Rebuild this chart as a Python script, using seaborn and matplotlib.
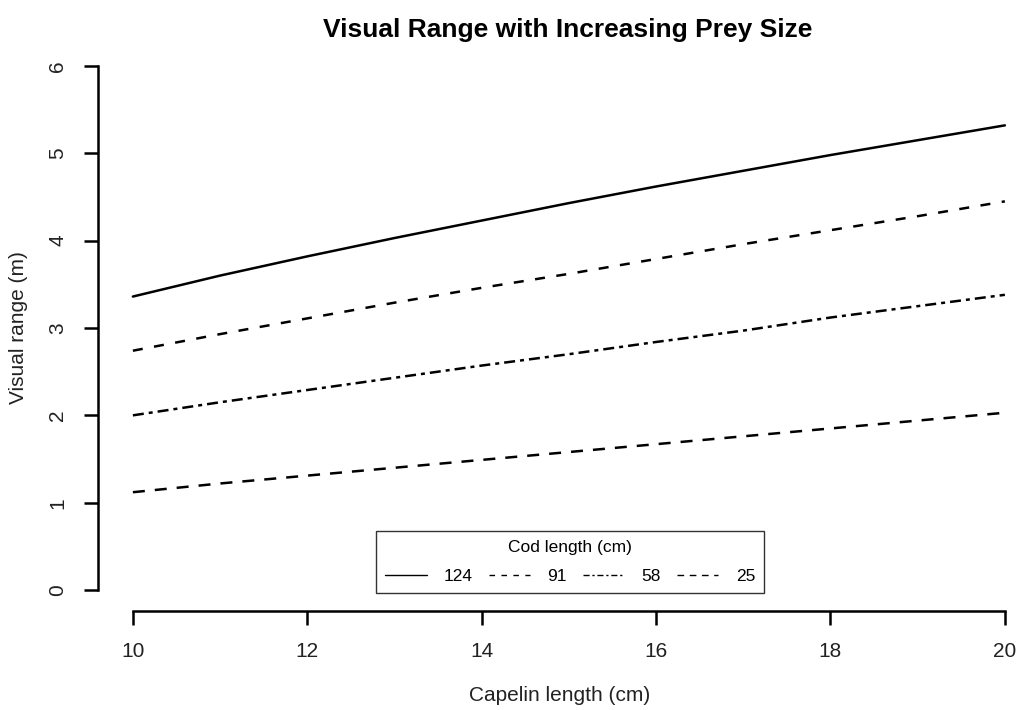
import numpy as np
import pandas as pd
import matplotlib
matplotlib.use("Agg")
import matplotlib.pyplot as plt
import seaborn as sns

# Capelin (prey) length, cm
capelin_length = [10, 11, 12, 13, 14, 15, 16, 17, 18, 19, 20]

# Visual range (m) for each cod length
range_cod_124 = [3.36, 3.60, 3.82, 4.03, 4.23, 4.43, 4.62, 4.80, 4.98, 5.15, 5.32]
range_cod_91 = [2.74, 2.93, 3.11, 3.29, 3.46, 3.62, 3.79, 3.96, 4.12, 4.28, 4.45]
range_cod_58 = [2.00, 2.15, 2.29, 2.43, 2.57, 2.70, 2.84, 2.97, 3.12, 3.25, 3.38]
range_cod_25 = [1.12, 1.22, 1.31, 1.40, 1.49, 1.58, 1.67, 1.76, 1.85, 1.94, 2.03]

cod_labels = ["124", "91", "58", "25"]

x_ticks = [10, 12, 14, 16, 18, 20]
y_ticks = [0, 1, 2, 3, 4, 5, 6]

series = {"124": range_cod_124, "91": range_cod_91,
          "58": range_cod_58, "25": range_cod_25}
df = pd.concat(
    [pd.DataFrame({"capelin": capelin_length, "range": v, "cod": k})
     for k, v in series.items()],
    ignore_index=True,
)

sns.set_style("white")
plt.rcParams["font.family"] = ["Liberation Sans", "DejaVu Sans"]

fig = plt.figure(figsize=(10.22, 7.10), dpi=100)
ax = fig.add_axes([98 / 1022, 1 - 611 / 710, (1022 - 98) / 1022, (611 - 45) / 710])

dash_styles = ["", (4.0, 4.6), (4.4, 2.0, 1.6, 2.0), (4.8, 4.0)]
sns.lineplot(data=df, x="capelin", y="range", style="cod",
             style_order=cod_labels, dashes=dash_styles, color="black",
             linewidth=1.8, legend=False, ax=ax)

ax.set_xlim(9.6, 9.6 + (1022 - 98) / 87.2)
ax.set_ylim(-0.24, 6.24)

for s in ["top", "right"]:
    ax.spines[s].set_visible(False)
ax.spines["left"].set_bounds(0, 6)
ax.spines["bottom"].set_bounds(10, 20)
for s in ["left", "bottom"]:
    ax.spines[s].set_linewidth(1.8)
    ax.spines[s].set_color("black")

ax.set_xticks(x_ticks)
ax.set_yticks(y_ticks)
ax.set_xticklabels([str(v) for v in x_ticks], fontsize=15)
ax.set_yticklabels([str(v) for v in y_ticks], fontsize=15, rotation=90, va="center")
ax.tick_params(axis="both", direction="out", length=10, width=1.8,
               color="black", labelcolor="#222222", left=True, bottom=True)
ax.tick_params(axis="x", pad=12)
ax.tick_params(axis="y", pad=12)

ax.set_xlabel("Capelin length (cm)", fontsize=15, color="#222222", labelpad=18)
ax.set_ylabel("Visual range (m)", fontsize=15, color="#222222", labelpad=15)
fig.suptitle("Visual Range with Increasing Prey Size", fontsize=19,
             fontweight="bold", color="black",
             x=568 / 1022, y=1 - 30 / 710, va="center")

leg = ax.legend(handles=ax.lines[:4], labels=cod_labels, ncol=4,
                title="Cod length (cm)", fontsize=12.5, title_fontsize=12.5,
                loc="center", bbox_to_anchor=(570 / 1022, 1 - 562 / 710),
                bbox_transform=fig.transFigure, frameon=True, fancybox=False,
                handlelength=2.4, columnspacing=0.9, handletextpad=1.0,
                borderpad=0.5, labelspacing=0.85)
leg.get_frame().set_edgecolor("black")
leg.get_frame().set_linewidth(1.0)
for t in leg.get_texts():
    t.set_color("black")
leg.get_title().set_color("black")
for h in leg.legend_handles:
    h.set_linewidth(1.0)

fig.savefig("out.png", dpi=100)
